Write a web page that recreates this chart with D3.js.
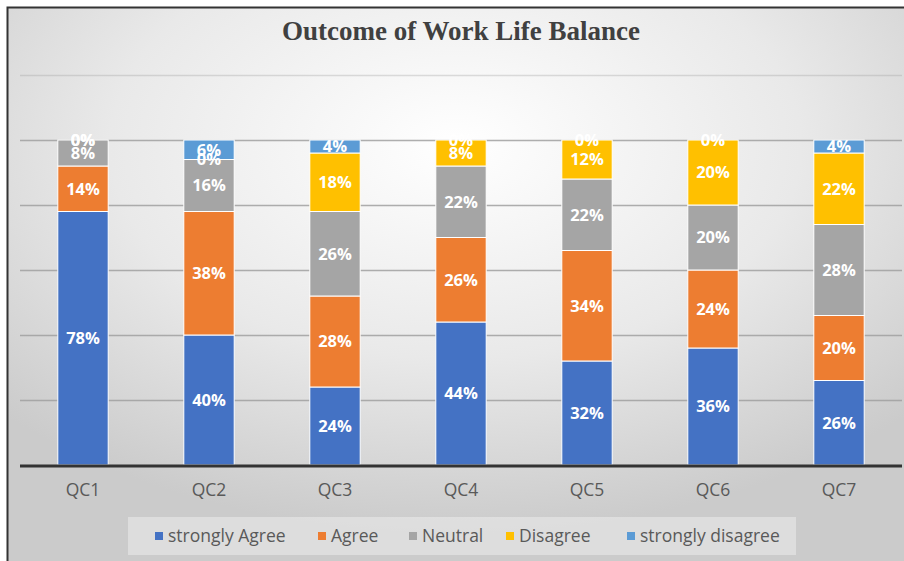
<!DOCTYPE html>
<html>
<head>
<meta charset="utf-8">
<script src="https://cdn.jsdelivr.net/npm/d3@7"></script>
<style>
  body { margin: 0; background: #fff; }
  svg { display: block; }
</style>
</head>
<body>
<svg id="chart" width="904" height="561"></svg>
<script>
const width = 904, height = 561

// data (percent)
const questions = ["QC1", "QC2", "QC3", "QC4", "QC5", "QC6", "QC7"]
const seriesNames = ["strongly Agree", "Agree", "Neutral", "Disagree", "strongly disagree"]
const stronglyAgree = [78, 40, 24, 44, 32, 36, 26]
const agree = [14, 38, 28, 26, 34, 24, 20]
const neutral = [8, 16, 26, 22, 22, 20, 28]
const disagree = [0, 0, 18, 8, 12, 20, 22]
const stronglyDisagree = [0, 6, 4, 0, 0, 0, 4]
const yTicks = [0, 20, 40, 60, 80, 100, 120]

const colors = ["#4472C4", "#ED7D31", "#A5A5A5", "#FFC000", "#5B9BD5"]

const rows = questions.map((q, i) => ({
  q,
  "strongly Agree": stronglyAgree[i],
  "Agree": agree[i],
  "Neutral": neutral[i],
  "Disagree": disagree[i],
  "strongly disagree": stronglyDisagree[i]
}))

const svg = d3.select('#chart')
const sans = '"Open Sans", "Noto Sans", sans-serif'

// background with soft radial shading
const defs = svg.append('defs')
const grad = defs.append('radialGradient')
  .attr('id', 'bg')
  .attr('cx', '50%').attr('cy', '25%').attr('r', '70%')
grad.append('stop').attr('offset', '0%').attr('stop-color', '#ffffff')
grad.append('stop').attr('offset', '55%').attr('stop-color', '#e9e9e9')
grad.append('stop').attr('offset', '100%').attr('stop-color', '#cbcbcb')

svg.append('rect')
  .attr('x', 7).attr('y', 7)
  .attr('width', width - 7).attr('height', height - 7)
  .attr('fill', 'url(#bg)')

// frame edges (left + top)
svg.append('path')
  .attr('d', `M7.5,${height} V7.5 H${width}`)
  .attr('fill', 'none')
  .attr('stroke', '#333')
  .attr('stroke-width', 2)

svg.append('text')
  .attr('x', 461).attr('y', 40)
  .attr('text-anchor', 'middle')
  .attr('font-family', '"Liberation Serif", "Times New Roman", serif')
  .attr('font-weight', 'bold')
  .attr('font-size', 27)
  .attr('fill', '#404040')
  .text('Outcome of Work Life Balance')

const x = d3.scaleBand()
  .domain(questions)
  .range([20, 902])
  .paddingInner(0.6)
  .paddingOuter(0.3)

const y = d3.scaleLinear()
  .domain([0, 120])
  .range([465, 75])

// gridlines
svg.append('g')
  .selectAll('line')
  .data(yTicks.filter(d => d > 0))
  .join('line')
  .attr('x1', 20).attr('x2', 902)
  .attr('y1', d => y(d) + 0.5).attr('y2', d => y(d) + 0.5)
  .attr('stroke', '#a0a0a0')
  .attr('stroke-opacity', d => d === 120 ? 0.35 : 0.85)
  .attr('stroke-width', 1.3)

const stack = d3.stack().keys(seriesNames)
const layers = stack(rows)

const groups = svg.append('g')
  .selectAll('g')
  .data(layers)
  .join('g')
  .attr('fill', (d, i) => colors[i])

groups.selectAll('rect')
  .data(d => d)
  .join('rect')
  .attr('x', d => x(d.data.q))
  .attr('width', x.bandwidth())
  .attr('y', d => y(d[1]))
  .attr('height', d => y(d[0]) - y(d[1]))
  .attr('stroke', '#fff')
  .attr('stroke-width', 1)

// baseline
svg.append('line')
  .attr('x1', 20).attr('x2', 902)
  .attr('y1', y(0) + 1).attr('y2', y(0) + 1)
  .attr('stroke', '#333')
  .attr('stroke-width', 3)

// data labels (zero values sit on top of each other, as in the original)
const labels = svg.append('g')
  .attr('font-family', sans)
  .attr('font-weight', 'bold')
  .attr('font-size', 16.5)
  .attr('fill', '#fff')
  .attr('text-anchor', 'middle')

layers.forEach(layer => {
  labels.selectAll(null)
    .data(layer)
    .join('text')
    .attr('x', d => x(d.data.q) + x.bandwidth() / 2)
    .attr('y', d => y((d[0] + d[1]) / 2))
    .attr('dy', '0.35em')
    .text(d => (d[1] - d[0]) + '%')
})

// category axis
const xAxis = svg.append('g')
  .attr('transform', `translate(0,${y(0)})`)
  .call(d3.axisBottom(x).tickSize(0).tickPadding(19))
xAxis.select('.domain').remove()
xAxis.selectAll('text')
  .attr('font-family', sans)
  .attr('font-size', 17.5)
  .attr('fill', '#595959')

// legend
svg.append('rect')
  .attr('x', 128).attr('y', 517)
  .attr('width', 668).attr('height', 38)
  .attr('fill', '#ffffff')
  .attr('fill-opacity', 0.35)

const legendX = [155, 318, 409, 506, 627]
const legend = svg.append('g')
  .selectAll('g')
  .data(seriesNames)
  .join('g')
  .attr('transform', (d, i) => `translate(${legendX[i]},536)`)

legend.append('rect')
  .attr('x', 0).attr('y', -4)
  .attr('width', 8).attr('height', 8)
  .attr('fill', (d, i) => colors[i])

legend.append('text')
  .attr('x', 13)
  .attr('dy', '0.35em')
  .attr('font-family', sans)
  .attr('font-size', 17.5)
  .attr('fill', '#595959')
  .text(d => d)
</script>
</body>
</html>
